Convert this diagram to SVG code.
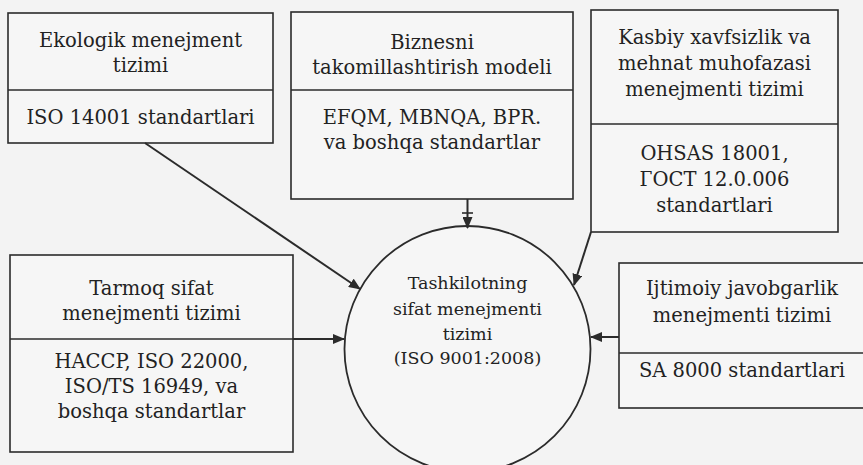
<svg xmlns="http://www.w3.org/2000/svg" width="863" height="465" viewBox="0 0 863 465">
<defs>
<style>
.bg{fill:#f3f3f3}
.box{fill:#f6f6f6;stroke:#2b2b2b;stroke-width:1.6}
.div{stroke:#2b2b2b;stroke-width:1.6;fill:none}
.t{font-size:19.5px;fill:#222;text-anchor:middle}
.c{font-size:17.5px;fill:#222;text-anchor:middle}
.con{stroke:#2b2b2b;stroke-width:2;fill:none;marker-end:url(#ah)}
</style>
<marker id="ah" viewBox="0 0 12 10" refX="11" refY="5" markerWidth="12" markerHeight="10" markerUnits="userSpaceOnUse" orient="auto">
<path d="M0,0 L12,5 L0,10 z" fill="#2b2b2b"/>
</marker>
</defs>
<rect class="bg" x="0" y="0" width="863" height="465"/>
<g id="node-center" style="font-family:'DejaVu Serif'">
<circle cx="467.5" cy="349" r="123" fill="#f6f6f6" stroke="#2b2b2b" stroke-width="1.8"/>
<text class="c" x="467.5" y="289">Tashkilotning</text>
<text class="c" x="467.5" y="315">sifat menejmenti</text>
<text class="c" x="467.5" y="340">tizimi</text>
<text class="c" x="467.5" y="364">(ISO 9001:2008)</text>
</g>

<g id="node-ekologik" style="font-family:'DejaVu Serif'">
<rect class="box" x="8" y="13" width="265" height="130"/>
<line class="div" x1="8" y1="90" x2="273" y2="90"/>
<text class="t" x="140.5" y="47">Ekologik menejment</text>
<text class="t" x="140.5" y="72">tizimi</text>
<text class="t" x="140.5" y="124">ISO 14001 standartlari</text>
</g>

<g id="node-biznes" style="font-family:'DejaVu Serif'">
<rect class="box" x="291" y="12" width="282" height="187"/>
<line class="div" x1="291" y1="90" x2="573" y2="90"/>
<text class="t" x="432" y="49">Biznesni</text>
<text class="t" x="432" y="74">takomillashtirish modeli</text>
<text class="t" x="432" y="124">EFQM, MBNQA, BPR.</text>
<text class="t" x="432" y="149">va boshqa standartlar</text>
</g>

<g id="node-kasbiy" style="font-family:'DejaVu Serif'">
<rect class="box" x="591" y="10" width="247" height="222"/>
<line class="div" x1="591" y1="124" x2="838" y2="124"/>
<text class="t" x="714.5" y="44">Kasbiy xavfsizlik va</text>
<text class="t" x="714.5" y="70">mehnat muhofazasi</text>
<text class="t" x="714.5" y="96">menejmenti tizimi</text>
<text class="t" x="714.5" y="160">OHSAS 18001,</text>
<text class="t" x="714.5" y="186">ГОСТ 12.0.006</text>
<text class="t" x="714.5" y="212">standartlari</text>
</g>

<g id="node-tarmoq" style="font-family:'DejaVu Serif'">
<rect class="box" x="10" y="255" width="283" height="197"/>
<line class="div" x1="10" y1="339" x2="293" y2="339"/>
<text class="t" x="151.5" y="295">Tarmoq sifat</text>
<text class="t" x="151.5" y="320">menejmenti tizimi</text>
<text class="t" x="151.5" y="368">HACCP, ISO 22000,</text>
<text class="t" x="151.5" y="393">ISO/TS 16949, va</text>
<text class="t" x="151.5" y="418">boshqa standartlar</text>
</g>

<g id="node-ijtimoiy" style="font-family:'DejaVu Serif'">
<rect class="box" x="619" y="263" width="250" height="145"/>
<line class="div" x1="619" y1="353" x2="869" y2="353"/>
<text class="t" x="742" y="295">Ijtimoiy javobgarlik</text>
<text class="t" x="742" y="322">menejmenti tizimi</text>
<text class="t" x="742" y="377">SA 8000 standartlari</text>
</g>
<g id="connectors">
<line class="con" x1="145" y1="143" x2="360" y2="289"/>
<line class="con" x1="467.5" y1="199" x2="467.5" y2="228"/>
<line x1="462" y1="213" x2="473" y2="213" stroke="#2b2b2b" stroke-width="1.6"/>
<line class="con" x1="591" y1="232" x2="574" y2="285"/>
<line class="con" x1="293" y1="339" x2="344" y2="339"/>
<line class="con" x1="619" y1="337" x2="591" y2="337"/>
</g>
</svg>
